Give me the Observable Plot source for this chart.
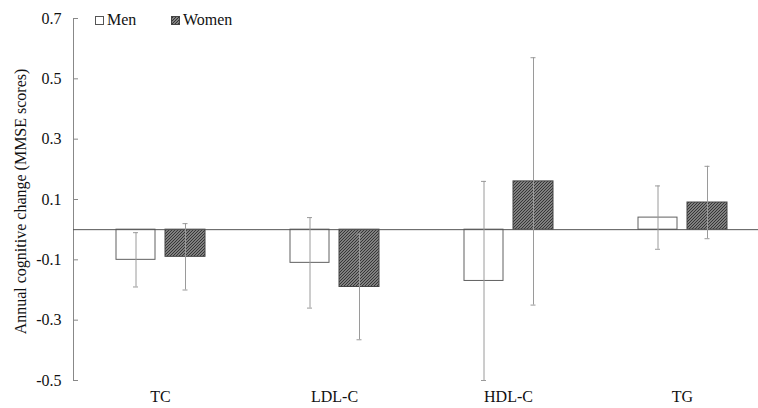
<!DOCTYPE html>
<html>
<head>
<meta charset="utf-8">
<script src="https://cdn.jsdelivr.net/npm/d3@7"></script>
<script src="https://cdn.jsdelivr.net/npm/@observablehq/plot@0.6"></script>
<style>
  html, body { margin: 0; padding: 0; background: #fff; }
  #wrap { position: relative; width: 758px; height: 408px; font-family: "Liberation Serif", "Times New Roman", serif; }
  #wrap svg, #wrap svg text { font-family: "Liberation Serif", "Times New Roman", serif !important; }
  #legend .item { position: absolute; top: 10px; height: 20px; font-size: 16px; color: #111; display: flex; align-items: center; white-space: nowrap; }
  #legend svg { margin-right: 3px; }
</style>
</head>
<body>
<div id="wrap"></div>
<script>
const categories = ["TC", "LDL-C", "HDL-C", "TG"];
const menValues = [-0.10, -0.11, -0.17, 0.04];
const menErrors = [0.09, 0.15, 0.33, 0.105];
const womenValues = [-0.09, -0.19, 0.16, 0.09];
const womenErrors = [0.11, 0.175, 0.41, 0.12];
const yTicks = [-0.5, -0.3, -0.1, 0.1, 0.3, 0.5, 0.7];
const seriesNames = ["Men", "Women"];
const yLabel = "Annual cognitive change (MMSE scores)";

const men = categories.map((c, i) => ({cat: c, value: menValues[i], lo: menValues[i] - menErrors[i], hi: menValues[i] + menErrors[i]}));
const women = categories.map((c, i) => ({cat: c, value: womenValues[i], lo: womenValues[i] - womenErrors[i], hi: womenValues[i] + womenErrors[i]}));

const W = 758, H = 408, mL = 73, mR = 0, mT = 18, mB = 28;
const errColor = "#9a9a9a";
const serif = "'Liberation Serif', 'Times New Roman', serif";

const svg = Plot.plot({
  width: W,
  height: H,
  marginLeft: mL,
  marginRight: mR,
  marginTop: mT,
  marginBottom: mB,
  style: {fontFamily: serif, fontSize: "16px", color: "#111", background: "#fff"},
  x: {domain: categories, range: [73, 769], padding: 0, label: null},
  y: {domain: [-0.5, 0.7], label: null},
  marks: [
    Plot.frame({anchor: "left", stroke: "#888"}),
    Plot.tickY(yTicks, {y: d => d, stroke: "#888", insetRight: W - mL - mR - 5}),
    Plot.axisY({ticks: yTicks, tickSize: 0, tickPadding: 12, tickFormat: d => String(d), fontSize: 16, fontFamily: serif}),
    Plot.axisX({tickSize: 0, tickPadding: 10, fontSize: 16, fontFamily: serif}),
    Plot.barY(men, {x: "cat", y: "value", insetLeft: 43, insetRight: 92, fill: "#fff", stroke: "#606060", strokeWidth: 1}),
    Plot.barY(women, {x: "cat", y: "value", insetLeft: 92, insetRight: 42, fill: "url(#hatch)", stroke: "#444", strokeWidth: 1}),
    Plot.ruleY([0], {stroke: "#555", strokeWidth: 1}),
    Plot.ruleX(men, {x: "cat", y1: "lo", y2: "hi", dx: -24.5, stroke: errColor}),
    Plot.ruleX(women, {x: "cat", y1: "lo", y2: "hi", dx: 25, stroke: errColor}),
    Plot.tickY(men, {x: "cat", y: "lo", insetLeft: 60, insetRight: 109, stroke: errColor}),
    Plot.tickY(men, {x: "cat", y: "hi", insetLeft: 60, insetRight: 109, stroke: errColor}),
    Plot.tickY(women, {x: "cat", y: "lo", insetLeft: 109.5, insetRight: 59.5, stroke: errColor}),
    Plot.tickY(women, {x: "cat", y: "hi", insetLeft: 109.5, insetRight: 59.5, stroke: errColor}),
    Plot.text([yLabel], {frameAnchor: "left", textAnchor: "middle", rotate: -90, dx: -53, dy: 2, fontSize: 16, fontFamily: serif, fill: "#111"})
  ]
});

const defs = document.createElementNS("http://www.w3.org/2000/svg", "defs");
defs.innerHTML = '<pattern id="hatch" patternUnits="userSpaceOnUse" width="3" height="3">' +
  '<rect width="3" height="3" fill="#a0a0a0"/>' +
  '<path d="M-0.75,0.75 l1.5,-1.5 M0,3 l3,-3 M2.25,3.75 l1.5,-1.5" stroke="#303030" stroke-width="1.1"/>' +
  '</pattern>';
svg.insertBefore(defs, svg.firstChild);

const wrap = document.getElementById("wrap");
wrap.appendChild(svg);

const legendLeft = [95, 171];
const legend = document.createElement("div");
legend.id = "legend";
legend.innerHTML = seriesNames.map((s, i) => {
  const fill = i === 0 ? "#fff" : "url(#hatch)";
  const stroke = i === 0 ? "#555" : "#444";
  return `<span class="item" style="left:${legendLeft[i]}px"><svg width="9" height="9"><rect x="0.5" y="0.5" width="8" height="8" fill="${fill}" stroke="${stroke}"/></svg><span>${s}</span></span>`;
}).join("");
wrap.appendChild(legend);
</script>
</body>
</html>
